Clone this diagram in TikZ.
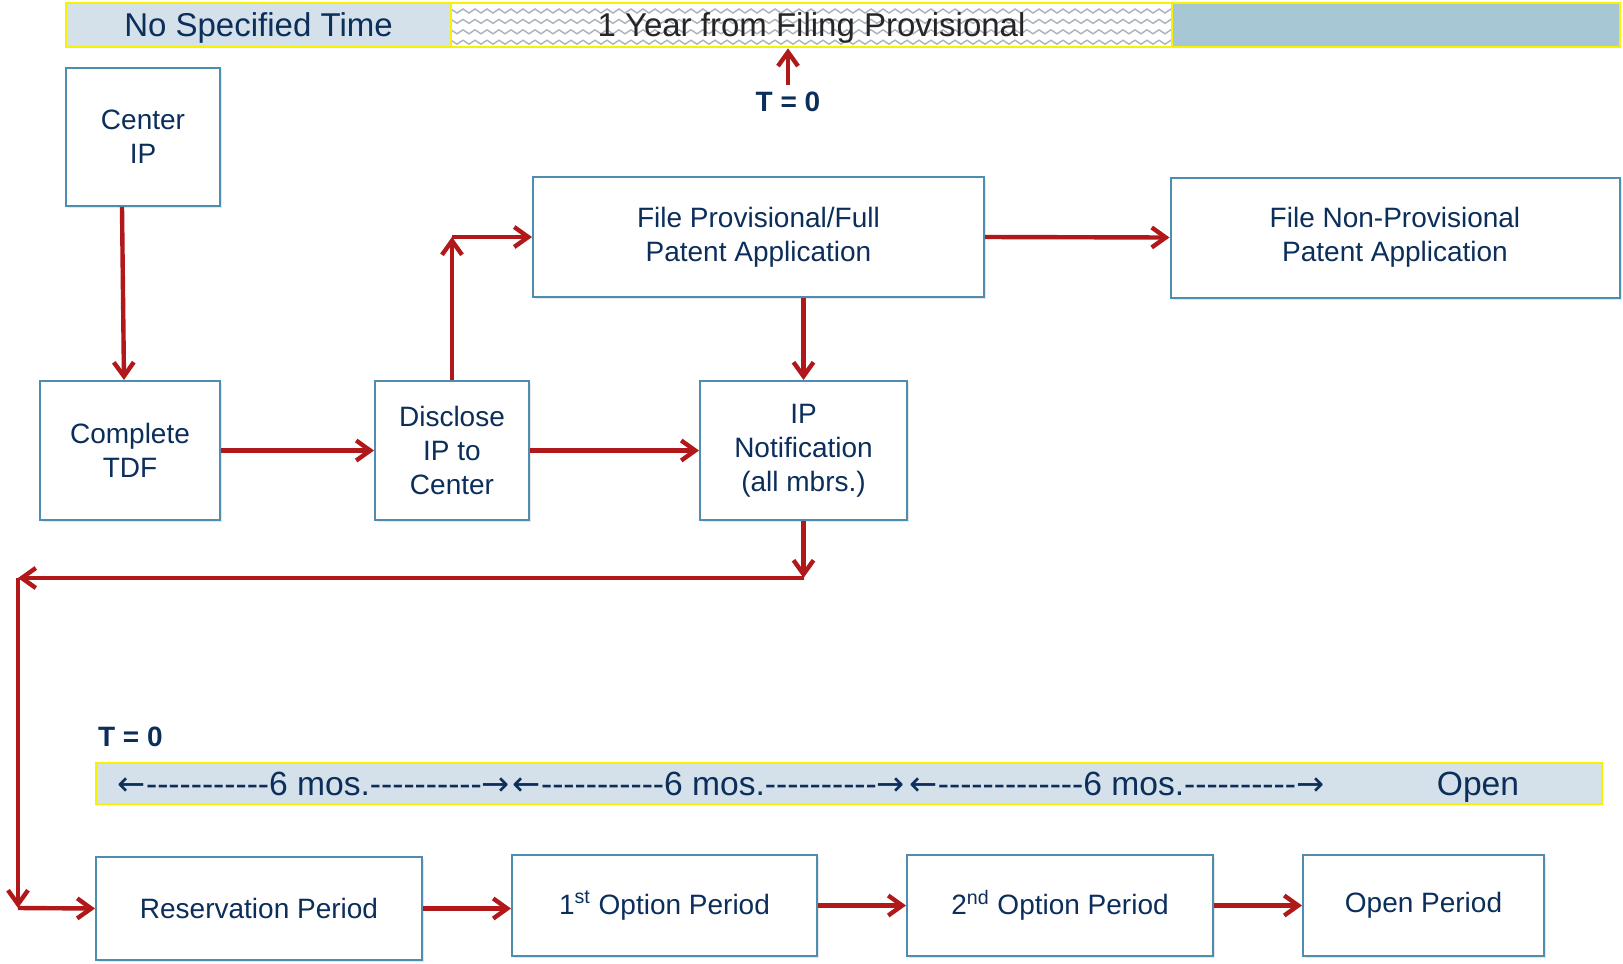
\documentclass[tikz,border=0pt]{standalone}
\usepackage{fontspec}
\setmainfont{Liberation Sans}
\newfontfamily\arrowfont{DejaVu Sans}
\usetikzlibrary{arrows.meta,positioning,calc,shadows}
\definecolor{NavyText}{HTML}{0B2E5A}
\definecolor{BoxBlue}{HTML}{4F8DB0}
\definecolor{ArrowRed}{HTML}{B0181A}
\definecolor{BarLight}{HTML}{D4E1EB}
\definecolor{BarBlue}{HTML}{A8C7D5}
\definecolor{BarYellow}{HTML}{F7F200}
\definecolor{ZigGray}{HTML}{A9B3BD}
\newcommand\dashrun[1]{\foreach \k in {1,...,#1}{-\kern0pt}}
\newcommand\la{{\arrowfont ←}}
\newcommand\ra{{\arrowfont →}}

\begin{document}
\begin{tikzpicture}[
  x=0.5pt, y=-0.5pt,
  box/.style={draw=BoxBlue, line width=1pt, fill=white, align=center, inner sep=2pt, text=NavyText, font=\fontsize{14}{17}\selectfont, drop shadow={shadow xshift=1.2pt, shadow yshift=-1.2pt, opacity=0.2}},
  bar/.style={draw=BarYellow, line width=1.3pt, inner sep=0pt, minimum height=22pt, text depth=0pt, font=\fontsize{16.5}{19}\selectfont},
  mos/.style={text=NavyText, inner sep=0pt, text depth=0pt, font=\fontsize{16.8}{19}\selectfont},
  tlabel/.style={text=NavyText, font=\bfseries\fontsize{14}{16}\selectfont},
  arr/.style={-{Straight Barb[length=7pt,width=10pt]}, line width=2.2pt, ArrowRed}
]
\useasboundingbox (0,0) rectangle (1623,964);

\node[bar, fill=BarLight, text=NavyText, minimum width=192.5pt] (nospec) at (258.5,25) {No Specified Time};
\node[bar, fill=white, text=black!85, minimum width=360.5pt,
  path picture={\foreach \r in {0,...,3}
    \draw[ZigGray, line width=0.7pt]
      ([yshift=-3pt-\r*5.2pt]path picture bounding box.north west)
      \foreach \z in {1,...,124} { -- ++(3pt,{mod(\z,2)==1 ? -2pt : 2pt}) };}] (oneyr) at (811.5,25) {1 Year from Filing Provisional};
\node[bar, fill=BarBlue, minimum width=224pt] (later) at (1396,25) {};
\node[tlabel] (tzero) at (788,102) {T = 0};

\node[box, minimum width=77pt, minimum height=69pt] (cip) at (143,137) {Center\\IP};
\node[box, minimum width=90pt, minimum height=69.5pt] (tdf) at (130,450.5) {Complete\\TDF};
\node[box, minimum width=77pt, minimum height=69.5pt] (dis) at (452,450.5) {Disclose\\IP to\\Center};
\node[box, minimum width=103.5pt, minimum height=69.5pt] (ipn) at (803.5,450.5) {IP\\Notification\\(all mbrs.)};
\node[box, minimum width=225.5pt, minimum height=60pt] (fpp) at (758.5,237) {File Provisional/Full\\Patent Application};
\node[box, minimum width=224.5pt, minimum height=60pt] (fnp) at (1395,237.5) {File Non-Provisional\\Patent Application};

\node[tlabel, anchor=west] (tzerob) at (91,737) {T = 0};
\node[bar, fill=BarLight, minimum width=753pt, minimum height=20.5pt] (months) at (849,783.5) {};
\node[mos] (six1) at (314,784) {\la\dashrun{11}6 mos.\dashrun{10}\ra};
\node[mos] (six2) at (709,784) {\la\dashrun{11}6 mos.\dashrun{10}\ra};
\node[mos] (six3) at (1117,784) {\la\dashrun{13}6 mos.\dashrun{10}\ra};
\node[mos] (open) at (1478,784) {Open};

\node[box, minimum width=163pt, minimum height=51.5pt] (res) at (259,908.5) {Reservation Period};
\node[box, minimum width=152.5pt, minimum height=50.5pt] (opt1) at (664.5,905.5) {1\textsuperscript{st} Option Period};
\node[box, minimum width=153pt, minimum height=50.5pt] (opt2) at (1060,905.5) {2\textsuperscript{nd} Option Period};
\node[box, minimum width=120.5pt, minimum height=50.5pt] (openp) at (1423.5,905.5) {Open Period};

\coordinate (bendD) at (dis.north |- fpp.west);
\coordinate (bendA) at (ipn.south |- 0,578);
\coordinate (bendB) at (18,578);
\coordinate (bendC) at (18,908);

\draw[arr] (tzero.north) -- (tzero.north |- oneyr.south);
\draw[arr] ([xshift=-10.5pt]cip.south) -- ([xshift=-3pt]tdf.north);
\draw[arr] (tdf.east) -- (dis.west);
\draw[arr] (dis.east) -- (ipn.west);
\draw[arr] (dis.north) -- (bendD);
\draw[arr] (bendD) -- (fpp.west);
\draw[arr] (fpp.east) -- (fnp.west);
\draw[arr] (fpp.south -| ipn.north) -- (ipn.north);
\draw[arr] (ipn.south) -- (bendA);
\draw[arr] (bendA) -- (bendB);
\draw[arr] (bendB) -- (bendC);
\draw[arr] (bendC) -- (res.west);
\draw[arr] (res.east) -- (res.east -| opt1.west);
\draw[arr] (opt1.east) -- (opt2.west);
\draw[arr] (opt2.east) -- (openp.west);
\end{tikzpicture}
\end{document}
